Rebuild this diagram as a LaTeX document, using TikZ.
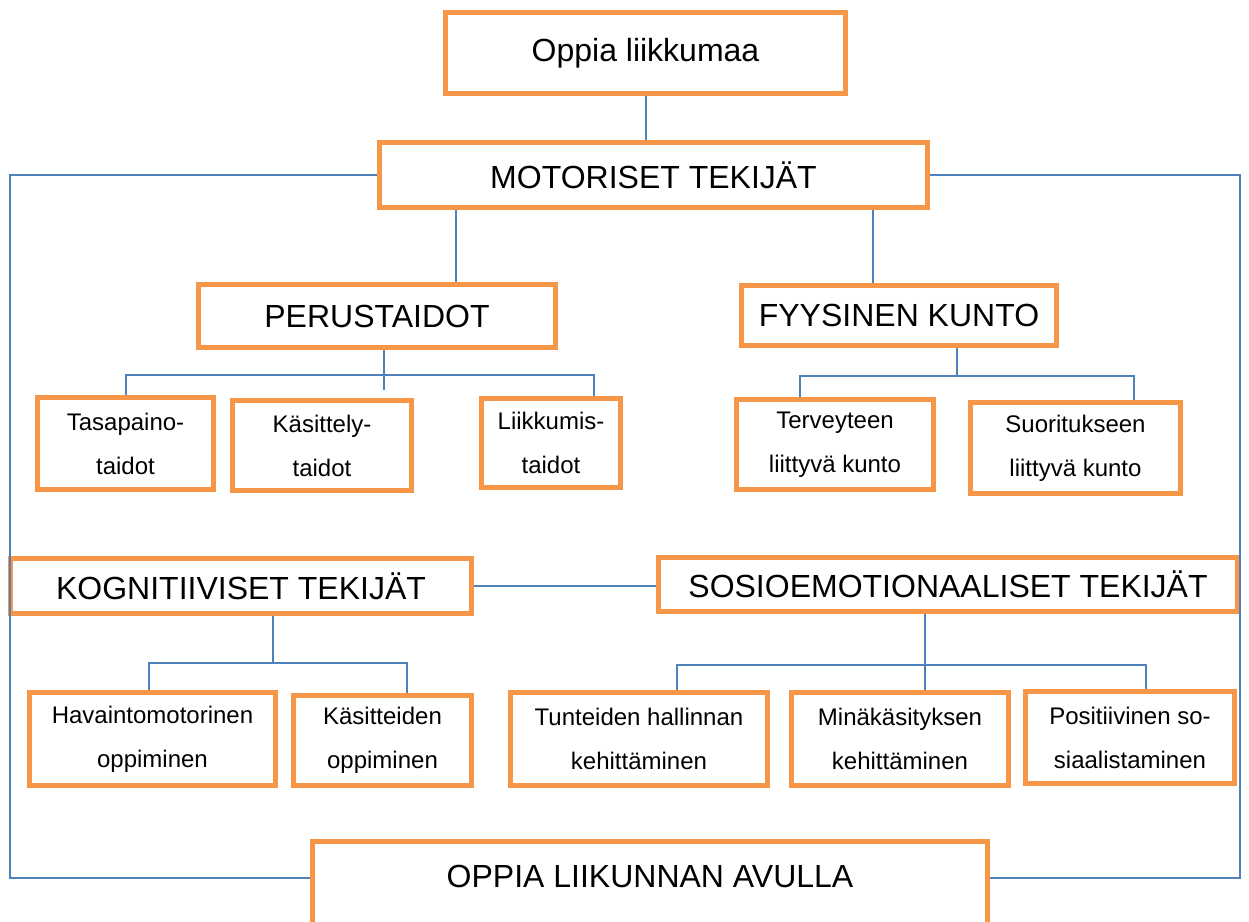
\documentclass[tikz,border=0pt]{standalone}
\usepackage{fontspec}
\setmainfont{Liberation Sans}
\usetikzlibrary{%
    positioning,%
    calc%
}
\definecolor{boxorange}{HTML}{F79646}
\definecolor{lineblue}{HTML}{4F81BD}
\tikzset{
    block/.style = {draw = boxorange, rectangle, line width = 3.75pt, align = center,
    font = \fontsize{18}{33}\selectfont},
    head/.style = {block, font = \fontsize{24}{29}\selectfont},
    conn/.style = {draw = lineblue, line width = 1.5pt}
}
\begin{document}
\begin{tikzpicture}[x=0.75pt, y=-0.75pt]
    \useasboundingbox (0,0) rectangle (1249,921);
    \clip (0,0) rectangle (1249,921);
    \fill[white] (0,0) rectangle (1249,921);

    \node[minimum width=300pt, minimum height=60.75pt] (top) [head] at (645.5,53) {Oppia liikkumaa};
    \node[minimum width=411pt, minimum height=48.75pt] (motor) [head] at (653.5,175) {MOTORISET TEKIJÄT};
    \node[minimum width=267.75pt, minimum height=47.25pt] (perus) [head] at (377,316) {PERUSTAIDOT};
    \node[minimum width=236.25pt, minimum height=45pt] (fyys) [head] at (899,315.5) {FYYSINEN KUNTO};
    \node[minimum width=132pt, minimum height=69pt] (tasa) [block] at (125.5,443.5) {Tasapaino-\\taidot};
    \node[minimum width=134.25pt, minimum height=67.5pt] (kasit) [block] at (322,445.5) {Käsittely-\\taidot};
    \node[minimum width=104.25pt, minimum height=66.75pt] (liik) [block] at (551,443) {Liikkumis-\\taidot};
    \node[minimum width=147.75pt, minimum height=67.5pt] (terv) [block] at (835,444.5) {Terveyteen\\liittyvä kunto};
    \node[minimum width=157.5pt, minimum height=68.25pt] (suor) [block] at (1075.5,448) {Suoritukseen\\liittyvä kunto};
    \node[minimum width=345.75pt, minimum height=41.25pt] (kogn) [head] at (241,586) {KOGNITIIVISET TEKIJÄT};
    \node[minimum width=434.25pt, minimum height=40.5pt] (sosio) [head] at (948,584.5) {SOSIOEMOTIONAALISET TEKIJÄT};
    \node[minimum width=184.5pt, minimum height=69.75pt] (hav) [block] at (152.5,739) {Havaintomotorinen\\oppiminen};
    \node[minimum width=133.5pt, minimum height=67.5pt] (kasitt) [block] at (382.5,740.5) {Käsitteiden\\oppiminen};
    \node[minimum width=192.75pt, minimum height=69.75pt] (tunt) [block] at (639,739) {Tunteiden hallinnan\\kehittäminen};
    \node[minimum width=162.75pt, minimum height=69.75pt] (mina) [block] at (900,739) {Minäkäsityksen\\kehittäminen};
    \node[minimum width=156.75pt, minimum height=69pt] (posi) [block] at (1130,737.5) {Positiivinen so-\\siaalistaminen};
    \node[minimum width=506.25pt, text height=17.25pt, text depth=14pt, inner ysep=17.25pt, anchor=north] (avulla) [head] at (650,838.5) {OPPIA LIIKUNNAN AVULLA};

    % ylin taso
    \draw[conn] (top.south) -- (top.south |- motor.north);
    \coordinate (lc) at (10,177);
    \coordinate (rc) at (1240,175);
    \draw[conn] (motor.west) -- (motor.west -| lc) |- ([yshift=5pt]avulla.west);
    \draw[conn] (motor.east) -- (motor.east -| rc) |- ([yshift=5pt]avulla.east);
    \coordinate (pm) at ($(perus.north)+(79,0)$);
    \coordinate (fm) at ($(fyys.north)+(-26,0)$);
    \draw[conn] (pm) -- (pm |- motor.south);
    \draw[conn] (fm) -- (fm |- motor.south);

    % perustaidot
    \coordinate (pb) at ($(perus.south)+(7,25)$);
    \coordinate (lk) at ($(liik.north)+(43,0)$);
    \draw[conn] (perus.south -| pb) -- ($(pb)+(0,15)$);
    \draw[conn] (tasa.north) -- (tasa.north |- pb) -- (lk |- pb) -- (lk);

    % fyysinen kunto
    \coordinate (fb) at ($(fyys.south)+(58,27.5)$);
    \coordinate (tv) at ($(terv.north)+(-35,0)$);
    \coordinate (sr) at ($(suor.north)+(58.5,0)$);
    \draw[conn] (fyys.south -| fb) -- (fb);
    \draw[conn] (tv) -- (tv |- fb) -- (sr |- fb) -- (sr);

    % kognitiiviset ja sosioemotionaaliset
    \draw[conn] (kogn.east) -- (kogn.east -| sosio.west);
    \coordinate (kb) at ($(kogn.south)+(32,46.5)$);
    \coordinate (hv) at ($(hav.north)+(-4,0)$);
    \coordinate (kt) at ($(kasitt.north)+(24,0)$);
    \draw[conn] (kogn.south -| kb) -- (kb);
    \draw[conn] (hv) -- (hv |- kb) -- (kt |- kb) -- (kt);
    \coordinate (sb) at ($(sosio.south)+(-23,50.5)$);
    \coordinate (tn) at ($(tunt.north)+(38,0)$);
    \coordinate (ps) at ($(posi.north)+(16,0)$);
    \draw[conn] (sosio.south -| sb) -- (sb |- mina.north);
    \draw[conn] (tn) -- (tn |- sb) -- (ps |- sb) -- (ps);
\end{tikzpicture}
\end{document}
